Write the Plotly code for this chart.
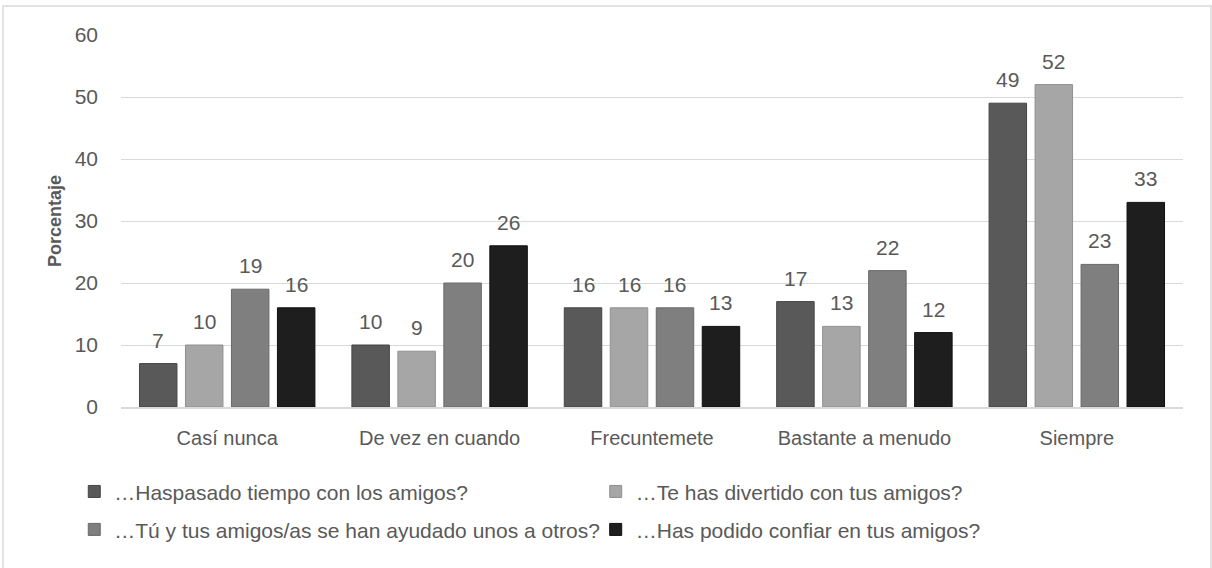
import plotly.graph_objects as go

categories = ["Casí nunca", "De vez en cuando", "Frecuntemete", "Bastante a menudo", "Siempre"]
series_names = [
    "…Haspasado tiempo con los amigos?",
    "…Te has divertido con tus amigos?",
    "…Tú y tus amigos/as se han ayudado unos a otros?",
    "…Has podido confiar en tus amigos?",
]
s1 = [7, 10, 16, 17, 49]
s2 = [10, 9, 16, 13, 52]
s3 = [19, 20, 16, 22, 23]
s4 = [16, 26, 13, 12, 33]
series_values = [s1, s2, s3, s4]
colors = ["#595959", "#a6a6a6", "#7f7f7f", "#1e1e1e"]
edge = ["#454545", "#909090", "#6a6a6a", "#101010"]
legend_ids = ["legend", "legend2", "legend3", "legend4"]

BARGAP = 0.134
GROUPGAP = 0.185
TXT = "#595959"
FAM = "Liberation Sans, Arial, sans-serif"

fig = go.Figure()
for name, vals, c, e, lg in zip(series_names, series_values, colors, edge, legend_ids):
    fig.add_trace(go.Bar(
        x=categories, y=vals, name=name, legend=lg,
        marker=dict(color=c, line=dict(color=e, width=1)),
    ))

# data labels placed above each grouped bar through the axis scales
n = len(series_values)
slot = (1 - BARGAP) / n
annotations = []
for i, vals in enumerate(series_values):
    off = (i - (n - 1) / 2) * slot
    for j, v in enumerate(vals):
        annotations.append(dict(
            x=j + off, y=v, xref="x", yref="y", text=str(v), showarrow=False,
            yanchor="bottom", xanchor="center", yshift=10,
            font=dict(size=21, color=TXT, family=FAM),
        ))

legend_common = dict(
    orientation="h", xanchor="left", yanchor="middle",
    font=dict(size=21, color=TXT, family=FAM),
    bgcolor="rgba(0,0,0,0)",
)
LX1 = -0.044
LX2 = 0.447
fig.update_layout(
    width=1212, height=568,
    paper_bgcolor="white", plot_bgcolor="white",
    margin=dict(l=121, r=29, t=35, b=161),
    barmode="group", bargap=BARGAP, bargroupgap=GROUPGAP,
    font=dict(family=FAM, color=TXT, size=20),
    showlegend=True,
    legend=dict(legend_common, x=LX1, y=-0.228),
    legend2=dict(legend_common, x=LX2, y=-0.228),
    legend3=dict(legend_common, x=LX1, y=-0.33),
    legend4=dict(legend_common, x=LX2, y=-0.33),
    xaxis=dict(
        showgrid=False, showline=True, linecolor="#d9d9d9", linewidth=2,
        tickfont=dict(size=20, color=TXT), ticks="", ticklabelstandoff=12,
    ),
    yaxis=dict(
        range=[0, 60], dtick=10, showgrid=True, gridcolor="#d9d9d9", gridwidth=1,
        zeroline=False, showline=False, ticks="",
        tickfont=dict(size=21, color=TXT), ticklabelstandoff=22,
        title=dict(text="<b>Porcentaje</b>", font=dict(size=18, color=TXT), standoff=8),
    ),
    annotations=annotations,
    shapes=[dict(
        type="rect", xref="paper", yref="paper",
        x0=(3 - 121) / 1062, x1=(1211 - 121) / 1062,
        y0=-0.6, y1=(407 - 6) / 372,
        line=dict(color="#d9d9d9", width=1.5), fillcolor="rgba(0,0,0,0)", layer="below",
    )],
)

fig.write_html("out.html", config={"displayModeBar": False})

# remove the default body margin so the figure sits at the page origin
with open("out.html", "r", encoding="utf-8") as f:
    html = f.read()
html = html.replace("<head>", "<head><style>html,body{margin:0;padding:0;overflow:hidden;}</style>", 1)
with open("out.html", "w", encoding="utf-8") as f:
    f.write(html)
